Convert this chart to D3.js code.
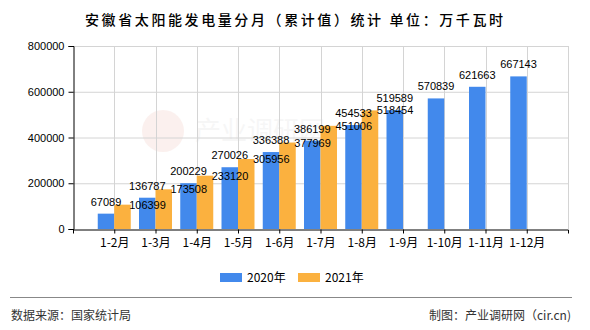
<!DOCTYPE html>
<html>
<head>
<meta charset="utf-8">
<script src="https://cdn.jsdelivr.net/npm/d3@7/dist/d3.min.js"></script>
<style>
  html, body { margin: 0; padding: 0; background: #fff; }
  svg { display: block; }
</style>
</head>
<body>
<div id="chart"></div>
<script>
const categories = ["1-2月","1-3月","1-4月","1-5月","1-6月","1-7月","1-8月","1-9月","1-10月","1-11月","1-12月"];
const values2020 = [67089,136787,200229,270026,336388,386199,454533,519589,570839,621663,667143];
const values2021 = [106399,173508,233120,305956,377969,451006,518454,null,null,null,null];
const seriesNames = ["2020年","2021年"];
const yTicks = [0,200000,400000,600000,800000];
const titleText = "安徽省太阳能发电量分月（累计值）统计 单位：万千瓦时";
const sourceText = "数据来源：国家统计局";
const creditText = "制图：产业调研网（cir.cn)";

const W = 590, H = 330;
const colors = ["#4289EC", "#FBB13F"];
const m = {left: 73, right: 568, top: 46, bottom: 229};
const numFont = "'Liberation Sans', Arial, sans-serif";
const cjkFont = "'Noto Sans CJK SC', 'Noto Sans', sans-serif";

const svg = d3.select("#chart").append("svg").attr("width", W).attr("height", H);

// title
svg.append("text")
  .attr("x", 294).attr("y", 25)
  .attr("text-anchor", "middle")
  .attr("font-family", cjkFont).attr("font-size", 14).attr("font-weight", 500)
  .attr("fill", "#000")
  .attr("textLength", 418).attr("lengthAdjust", "spacing")
  .text(titleText);

// watermark (faint)
const wm = svg.append("g").attr("opacity", 0.07);
wm.append("circle").attr("cx", 163).attr("cy", 131).attr("r", 21).attr("fill", "#d04020");
wm.append("text").attr("x", 195).attr("y", 140).attr("font-family", cjkFont)
  .attr("font-size", 26).attr("fill", "#888").text("产业调研网");

const x = d3.scalePoint().domain(categories).range([m.left, m.right]).padding(1);
const inner = d3.scaleBand().domain(seriesNames).range([-16.5, 16.5]).paddingInner(0).paddingOuter(0);
const y = d3.scaleLinear().domain([0, 800000]).range([m.bottom, m.top]);

// gridlines
const grid = svg.append("g");
grid.selectAll("line.h").data(yTicks.filter(d => d > 0)).join("line")
  .attr("x1", m.left).attr("x2", m.right)
  .attr("y1", d => y(d) + 0.5).attr("y2", d => y(d) + 0.5)
  .attr("stroke", "#d4d4d4").attr("stroke-width", 1);
const vPos = categories.map(c => x(c)).concat([m.right]);
grid.selectAll("line.v").data(vPos).join("line")
  .attr("x1", d => Math.round(d) + 0.5).attr("x2", d => Math.round(d) + 0.5)
  .attr("y1", m.top).attr("y2", m.bottom)
  .attr("stroke", "#d4d4d4").attr("stroke-width", 1);

// bars
const seriesData = [values2020, values2021];
seriesData.forEach((vals, si) => {
  const g = svg.append("g");
  g.selectAll("rect").data(categories.map((c, i) => ({c, v: vals[i]})).filter(d => d.v != null)).join("rect")
    .attr("x", d => x(d.c) + inner(seriesNames[si]))
    .attr("width", inner.bandwidth())
    .attr("y", d => y(d.v))
    .attr("height", d => y(0) - y(d.v))
    .attr("fill", colors[si]);
});

// axes
const yAxis = d3.axisLeft(y).tickValues(yTicks).tickSize(5).tickFormat(d3.format("d"));
const yg = svg.append("g").attr("transform", `translate(${m.left + 0.5},0)`).call(yAxis);
yg.select(".domain").attr("stroke", "#000");
yg.selectAll(".tick line").attr("stroke", "#000");
yg.selectAll(".tick text").attr("font-family", numFont).attr("font-size", 11).attr("fill", "#000").attr("x", -9);

const xAxis = d3.axisBottom(x).tickSize(4).tickSizeOuter(4);
const xg = svg.append("g").attr("transform", `translate(0,${m.bottom + 0.5})`).call(xAxis);
xg.select(".domain").attr("stroke", "#000");
xg.selectAll(".tick line").attr("stroke", "#000");
xg.selectAll(".tick text").attr("font-family", cjkFont).attr("font-size", 12).attr("fill", "#000").attr("dy", "0.9em");

// data labels
svg.append("g").selectAll("text").data(categories.map((c, i) => ({c, v: values2020[i]}))).join("text")
  .attr("x", d => x(d.c) + inner(seriesNames[0]) + inner.bandwidth() / 2)
  .attr("y", d => y(d.v) - 8)
  .attr("text-anchor", "middle")
  .attr("font-family", numFont).attr("font-size", 11).attr("fill", "#000")
  .text(d => d.v);
svg.append("g").selectAll("text").data(categories.map((c, i) => ({c, v: values2021[i]})).filter(d => d.v != null)).join("text")
  .attr("x", d => x(d.c) + inner(seriesNames[1]) + inner.bandwidth() / 2 + 25)
  .attr("y", d => y(d.v) + 4)
  .attr("text-anchor", "middle")
  .attr("font-family", numFont).attr("font-size", 11).attr("fill", "#000")
  .text(d => d.v);

// legend
const legendX = [220, 298];
seriesNames.forEach((s, i) => {
  svg.append("rect").attr("x", legendX[i]).attr("y", 273).attr("width", 22).attr("height", 9).attr("fill", colors[i]);
  svg.append("text").attr("x", legendX[i] + 27).attr("y", 282)
    .attr("font-family", cjkFont).attr("font-size", 12).attr("fill", "#000").text(s);
});

// footer
svg.append("line").attr("x1", 10).attr("x2", 572).attr("y1", 297.5).attr("y2", 297.5)
  .attr("stroke", "#888").attr("stroke-width", 1);
svg.append("text").attr("x", 11).attr("y", 320)
  .attr("font-family", cjkFont).attr("font-size", 12).attr("fill", "#333").text(sourceText);
svg.append("text").attr("x", 571).attr("y", 320).attr("text-anchor", "end")
  .attr("font-family", cjkFont).attr("font-size", 12).attr("fill", "#333").text(creditText);
</script>
</body>
</html>
